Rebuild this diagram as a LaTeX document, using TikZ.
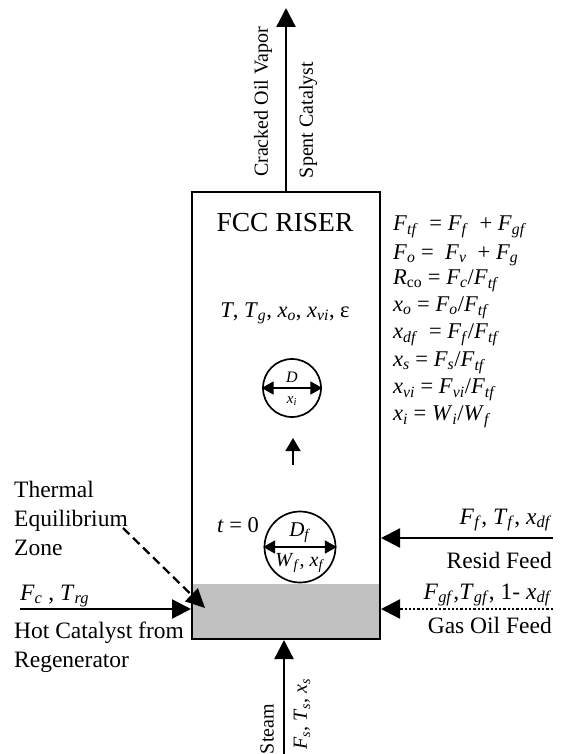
\documentclass[tikz,border=0pt]{standalone}
\usepackage{fontspec}
\setmainfont{Liberation Serif}
\usetikzlibrary{arrows.meta}
\newcommand\V[2]{\textit{#1}\textsubscript{\textit{#2}}}
\definecolor{zonegray}{RGB}{192,192,192}
\begin{document}
\begin{tikzpicture}[x=1pt,y=-1pt,
  lbl/.style={font=\fontsize{23.5}{29}\selectfont, inner sep=0pt},
  eq/.style={font=\fontsize{22.5}{26}\selectfont, anchor=west, inner sep=0pt},
  rot/.style={font=\fontsize{20}{24}\selectfont, rotate=90, inner sep=0pt},
  flow/.style={line width=2.3pt, -{Triangle[length=19pt,width=19pt]}},
  dbl/.style={line width=1.7pt, {Triangle[length=12pt,width=13pt]}-{Triangle[length=12pt,width=13pt]}, shorten <=-0.5pt, shorten >=-0.5pt}
]
\useasboundingbox (0,0) rectangle (564,754);
% riser
\node (zone) [fill=zonegray, minimum width=188pt, minimum height=55pt, inner sep=0pt] at (286,611.5) {};
\node (riser) [draw, line width=2pt, minimum width=188pt, minimum height=447pt, inner sep=0pt] at (286,415.5) {};
% texts inside
\node (title) [font=\fontsize{27.5}{30}\selectfont, inner sep=0pt] at (285,223) {FCC RISER};
\node (state) [font=\fontsize{22.5}{26}\selectfont, inner sep=0pt] at (285,313) {\textit{T}, \V{T}{g}, \V{x}{o}, \V{x}{vi}, ε};
\node (tzero) [font=\fontsize{22.5}{26}\selectfont, inner sep=0pt] at (238,525) {\textit{t} = 0};
% droplets
\node (drop) [circle, draw, line width=1.7pt, minimum size=58pt, inner sep=0pt] at (292,388) {};
\draw[dbl] (drop.west) -- (drop.east);
\node (dlab) [font=\fontsize{16}{18}\selectfont\itshape, inner sep=0pt] at (292,377) {D};
\node (xlab) [font=\fontsize{15}{17}\selectfont, inner sep=0pt] at (292,401) {\V{x}{i}};
\node (dropf) [circle, draw, line width=1.7pt, minimum size=71pt, inner sep=0pt] at (300,547) {};
\draw[dbl] (dropf.west) -- (dropf.east);
\node (dflab) [font=\fontsize{21}{23}\selectfont, inner sep=0pt] at (300,533) {\V{D}{f}};
\node (wflab) [font=\fontsize{20}{22}\selectfont, inner sep=0pt] at (300,563) {\V{W}{f}, \V{x}{f}};
\coordinate (up0) at (293,465);
\coordinate (up1) at (293,438);
\draw[line width=1.7pt, -{Triangle[length=13pt,width=15pt]}] (up0) -- (up1);
% equations
\node (eq1) [eq] at (393,227) {\V{F}{tf}~ = \V{F}{f}~ + \V{F}{gf}};
\node (eq2) [eq] at (393,255) {\V{F}{o} = ~\V{F}{v}~ + \V{F}{g}};
\node (eq3) [eq] at (393,281) {\textit{R}\textsubscript{co} = \V{F}{c}/\V{F}{tf}};
\node (eq4) [eq] at (393,308) {\V{x}{o} = \V{F}{o}/\V{F}{tf}};
\node (eq5) [eq] at (393,335) {\V{x}{df}~ = \V{F}{f}/\V{F}{tf}};
\node (eq6) [eq] at (393,363) {\V{x}{s} = \V{F}{s}/\V{F}{tf}};
\node (eq7) [eq] at (393,390) {\V{x}{vi} = \V{F}{vi}/\V{F}{tf}};
\node (eq8) [eq] at (393,417) {\V{x}{i} = \V{W}{i}/\V{W}{f}};
% top outlet
\coordinate (topend) at (286,8);
\draw[flow] (riser.north) -- (topend);
\node (cov) [rot] at (263,102) {Cracked Oil Vapor};
\node (spc) [rot] at (308,120) {Spent Catalyst};
% steam inlet
\coordinate (steamin) at (284,754);
\draw[flow] (steamin) -- (steamin |- riser.south);
\node (steam) [rot] at (267,729) {Steam};
\node (steamv) [rot] at (302,714) {\V{F}{s}, \V{T}{s}, \V{x}{s}};
% hot catalyst
\coordinate (hcin) at (20,609);
\draw[flow] (hcin) -- (hcin -| riser.west);
\node (fc) [lbl, anchor=west] at (20,596) {\V{F}{c} , \V{T}{rg}};
\node (hc) [lbl, anchor=west, align=left] at (14,647) {Hot Catalyst from\\Regenerator};
% thermal equilibrium zone
\node (tez) [lbl, anchor=west, align=left] at (14,518) {Thermal\\Equilibrium\\Zone};
\coordinate (tezs) at (123,528);
\coordinate (teze) at (205,608);
\draw[line width=2.3pt, dash pattern=on 9pt off 5pt, -{Triangle[length=19pt,width=18pt]}] (tezs) -- (teze);
% resid feed
\coordinate (rfin) at (553,538);
\draw[flow] (rfin) -- (rfin -| riser.east);
\node (rfv) [lbl, anchor=east] at (552,520) {\V{F}{f}, \V{T}{f}, \V{x}{df}};
\node (rf) [lbl, anchor=east] at (552,560) {Resid Feed};
% gas oil feed
\coordinate (gofin) at (553,609);
\draw[flow, dash pattern=on 2.3pt off 2pt] (gofin) -- (gofin -| riser.east);
\node (gofv) [lbl, anchor=east] at (552,595) {\V{F}{gf},\V{T}{gf}, 1- \V{x}{df}};
\node (gof) [lbl, anchor=east] at (552,625) {Gas Oil Feed};
\end{tikzpicture}
\end{document}
